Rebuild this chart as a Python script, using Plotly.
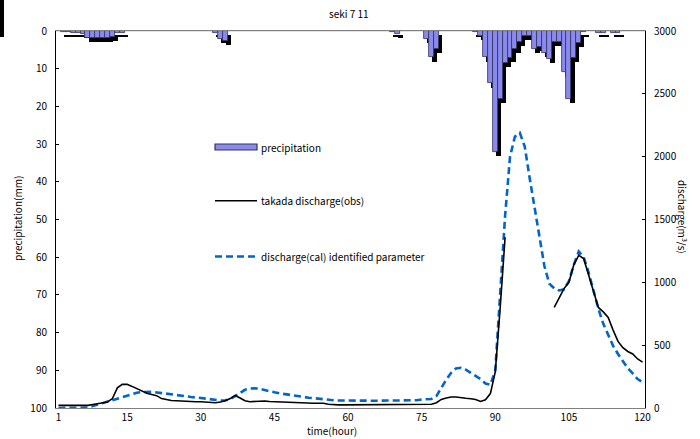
import plotly.graph_objects as go

hours = list(range(1, 121))

precipitation_mm = [
    0, 0.3, 0.3, 0.5, 0.5, 0.8, 1.8, 1.8, 1.8, 1.8,
    1.8, 1.5, 0.5, 0.5, 0, 0, 0, 0, 0, 0,
    0, 0, 0, 0, 0, 0, 0, 0, 0, 0,
    0, 0, 0.6, 2.2, 2.7, 0, 0, 0, 0, 0,
    0, 0, 0, 0, 0, 0, 0, 0, 0, 0,
    0, 0, 0, 0, 0, 0, 0, 0, 0, 0,
    0, 0, 0, 0, 0, 0, 0, 0, 0.3, 0.8,
    0, 0, 0, 0, 0, 2.0, 7.0, 4.7, 0, 0,
    0, 0, 0, 0, 0, 0.3, 1.2, 7.0, 13.9, 32.1,
    18.0, 8.4, 7.1, 4.7, 2.9, 1.2, 1.2, 4.7, 4.2, 5.9,
    7.5, 2.9, 2.9, 11.0, 18.0, 7.1, 3.1, 0.3, 0, 0,
    0.4, 0.4, 0, 0.4, 0.4, 0, 0, 0, 0, 0,
]

discharge_obs = [
    21, 21, 21, 21, 21, 21, 21, 28, 33, 40,
    48, 75, 160, 188, 188, 172, 155, 132, 118, 108,
    98, 75, 65, 60, 58, 55, 52, 50, 50, 50,
    48, 43, 42, 48, 58, 75, 100, 80, 58, 50,
    52, 58, 56, 52, 50, 47, 44, 42, 42, 38,
    38, 38, 38, 38, 38, 30, 25, 25, 25, 25,
    25, 25, 25, 25, 25, 25, 25, 25, 25, 25,
    25, 25, 25, 25, 25, 25, 30, 42, 68, 80,
    88, 88, 80, 77, 74, 68, 52, 65, 115, 290,
    800, 1360, None, None, None, None, None, None, None, None,
    None, 800, 880, 950, 1000, 1140, 1215, 1190, 1060, 920,
    800, 765, 720, 620, 530, 480, 450, 430, 390, 365,
]

discharge_cal = [
    0, 0, 0, 0, 0, 0, 3, 15, 27, 38,
    50, 65, 80, 90, 100, 112, 122, 127, 130, 128,
    124, 118, 113, 108, 102, 97, 92, 88, 84, 80,
    77, 72, 66, 60, 62, 72, 95, 120, 145, 155,
    157, 152, 145, 135, 125, 117, 110, 104, 98, 93,
    88, 82, 77, 72, 68, 65, 62, 60, 59, 58,
    58, 58, 58, 58, 58, 58, 58, 58, 58, 58,
    58, 58, 58, 62, 68, 70, 72, 95, 165, 225,
    280, 315, 320, 305, 280, 255, 230, 195, 185, 300,
    880, 1530, 2000, 2160, 2190, 2080, 1830, 1600, 1340, 1130,
    990, 952, 935, 945, 1010, 1140, 1245, 1200, 1080, 930,
    790, 670, 585, 495, 430, 370, 316, 275, 230, 205,
]

x_tick_vals = [1, 15, 30, 45, 60, 75, 90, 105, 120]
x_tick_text = ["1", "15", "30", "45", "60", "75", "90", "105", "120"]
precip_ticks = list(range(0, 101, 10))
discharge_ticks = list(range(0, 3001, 500))

TXT = "Noto Sans CJK JP"
BAR_FILL = "#8a8aee"
BAR_EDGE = "#34345e"
BLUE = "#0066cc"

fig = go.Figure()

# shadow of precipitation bars
fig.add_trace(go.Bar(
    x=hours, y=precipitation_mm, base=1.1, offset=0.15, width=1.0,
    marker=dict(color="#000000", line=dict(width=0)),
    yaxis="y", showlegend=False, hoverinfo="skip",
))
# precipitation bars
fig.add_trace(go.Bar(
    x=hours, y=precipitation_mm, offset=-0.5, width=1.0,
    marker=dict(color=BAR_FILL, line=dict(color=BAR_EDGE, width=0.8)),
    yaxis="y", name="precipitation", showlegend=False,
))
fig.add_trace(go.Scatter(
    x=hours, y=discharge_cal, mode="lines", yaxis="y2",
    line=dict(color=BLUE, width=2.6, dash="7px,4px"),
    name="discharge(cal) identified parameter", showlegend=False,
))
fig.add_trace(go.Scatter(
    x=hours, y=discharge_obs, mode="lines", yaxis="y2", connectgaps=False,
    line=dict(color="#000000", width=1.6),
    name="takada discharge(obs)", showlegend=False,
))

L, R, T, B = 56, 55, 31, 31
W, H = 700, 439
pw, ph = W - L - R, H - T - B


def px(x):
    return (x - L) / pw


def py(y):
    return (H - B - y) / ph


tick_font = dict(family=TXT, size=10, color="#000000")

annotations = [
    dict(text="seki 7 11", x=px(349), y=py(13), xref="paper", yref="paper",
         showarrow=False, font=dict(family=TXT, size=10, color="#000"),
         xanchor="center", yanchor="middle"),
    dict(text="precipitation(mm)", x=px(17), y=py(219), xref="paper", yref="paper",
         showarrow=False, textangle=-90, font=dict(family=TXT, size=10, color="#000"),
         xanchor="center", yanchor="middle"),
    dict(text="discharge(m<sup>3</sup>/s)", x=px(683), y=py(217), xref="paper", yref="paper",
         showarrow=False, textangle=90, font=dict(family=TXT, size=10, color="#000"),
         xanchor="center", yanchor="middle"),
    dict(text="time(hour)", x=px(332), y=py(430), xref="paper", yref="paper",
         showarrow=False, font=dict(family=TXT, size=10, color="#000"),
         xanchor="center", yanchor="middle"),
    dict(text="precipitation", x=px(259), y=py(147.5), xref="paper", yref="paper",
         showarrow=False, font=dict(family=TXT, size=10, color="#000"),
         xanchor="left", yanchor="middle"),
    dict(text="takada discharge(obs)", x=px(259), y=py(200.5), xref="paper", yref="paper",
         showarrow=False, font=dict(family=TXT, size=10, color="#000"),
         xanchor="left", yanchor="middle"),
    dict(text="discharge(cal) identified parameter", x=px(259), y=py(256.5), xref="paper", yref="paper",
         showarrow=False, font=dict(family=TXT, size=10, color="#000"),
         xanchor="left", yanchor="middle"),
]

shapes = [
    dict(type="rect", xref="paper", yref="paper", x0=px(215), x1=px(257), y0=py(150), y1=py(144),
         fillcolor=BAR_FILL, line=dict(color=BAR_EDGE, width=1.2)),
    dict(type="line", xref="paper", yref="paper", x0=px(215), x1=px(257), y0=py(200.7), y1=py(200.7),
         line=dict(color="#000", width=1.6)),
    dict(type="line", xref="paper", yref="paper", x0=px(215), x1=px(257), y0=py(256.5), y1=py(256.5),
         line=dict(color=BLUE, width=2.6, dash="7px,4px")),
    dict(type="rect", xref="paper", yref="paper", x0=px(0), x1=px(4), y0=py(37), y1=py(0),
         fillcolor="#000", line=dict(width=0)),
]

fig.update_layout(
    width=W, height=H,
    margin=dict(l=L, r=R, t=T, b=B, pad=0),
    paper_bgcolor="#ffffff", plot_bgcolor="#ffffff",
    barmode="overlay", bargap=0,
    showlegend=False,
    font=dict(family=TXT, size=10, color="#000"),
    xaxis=dict(
        range=[0.5, 120.5], tickvals=x_tick_vals, ticktext=x_tick_text,
        showline=True, linecolor="#808080", linewidth=1, mirror=True,
        ticks="", showgrid=False, zeroline=False, tickfont=tick_font,
    ),
    yaxis=dict(
        range=[100, 0], tickvals=precip_ticks, ticks="inside", ticklen=3,
        tickcolor="#000", showline=True, linecolor="#000", linewidth=1,
        showgrid=False, zeroline=False, tickfont=tick_font, ticklabelstandoff=6,
    ),
    yaxis2=dict(
        range=[0, 3000], tickvals=discharge_ticks, overlaying="y", side="right",
        ticks="inside", ticklen=3, tickcolor="#000", showline=True,
        linecolor="#000", linewidth=1, showgrid=False, zeroline=False,
        tickfont=tick_font, ticklabelstandoff=6,
    ),
    annotations=annotations,
    shapes=shapes,
)

fig.write_html("out.html")
